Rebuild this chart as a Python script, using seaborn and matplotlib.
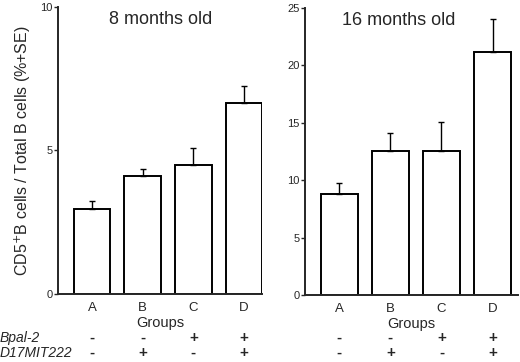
import numpy as np
import pandas as pd
import matplotlib.pyplot as plt
import matplotlib as mpl
import matplotlib.transforms as mtransforms
import seaborn as sns

# ------------------ style ------------------
sns.set_style("ticks")
mpl.rcParams['font.family'] = 'sans-serif'
mpl.rcParams['font.sans-serif'] = ['Liberation Sans', 'DejaVu Sans']

# ------------------ data ------------------
groups = ["A", "B", "C", "D"]
mean_8mo = [2.95, 4.1, 4.5, 6.65]
se_8mo = [0.3, 0.25, 0.58, 0.6]
mean_16mo = [8.8, 12.5, 12.5, 21.2]
se_16mo = [0.95, 1.6, 2.6, 2.8]
bpal2 = ["-", "-", "+", "+"]
d17mit222 = ["-", "+", "-", "+"]

df8 = pd.DataFrame({"group": groups, "value": mean_8mo, "se": se_8mo})
df16 = pd.DataFrame({"group": groups, "value": mean_16mo, "se": se_16mo})

# ------------------ plot ------------------
fig = plt.figure(figsize=(5.2, 3.62), dpi=100)
ax1 = fig.add_axes([0.1115, 0.188, 0.392, 0.793])
ax2 = fig.add_axes([0.5865, 0.185, 0.41, 0.793])

panels = [
    (ax1, df8, "8 months old", 1.35, 10, [0, 5, 10], (-0.67, 3.35)),
    (ax2, df16, "16 months old", 1.16, 25, [0, 5, 10, 15, 20, 25], (-0.67, 3.5)),
]

for ax, d, title, title_x, ymax, yticks, xlim in panels:
    sns.barplot(data=d, x="group", y="value", order=groups, ax=ax,
                color="white", edgecolor="black", linewidth=1.4,
                width=0.72, errorbar=None)
    ax.errorbar(range(len(groups)), d["value"],
                yerr=[np.zeros(len(groups)), d["se"]],
                fmt="none", ecolor="black", elinewidth=1.0,
                capsize=2.5, capthick=1.0)
    ax.set_ylim(0, ymax)
    ax.set_xlim(*xlim)
    ax.set_yticks(yticks)
    ax.tick_params(axis="y", labelsize=8, length=3, width=1, pad=1)
    ax.tick_params(axis="x", labelsize=9.5, length=0, pad=6)
    ax.set_xlabel("Groups", fontsize=10.5, labelpad=1)
    ax.set_ylabel("")
    ttrans = mtransforms.blended_transform_factory(ax.transData, ax.transAxes)
    ax.text(title_x, 0.985, title, transform=ttrans, ha="center", va="top",
            fontsize=13)
    for s in ["left", "bottom"]:
        ax.spines[s].set_linewidth(1.4)
    sns.despine(ax=ax)

    # genotype rows under each panel
    trans = mtransforms.blended_transform_factory(ax.transData, fig.transFigure)
    for i in range(len(groups)):
        ax.text(i, 1 - 338 / 362, bpal2[i], transform=trans, ha="center",
                va="center", fontsize=11, fontweight="bold")
        ax.text(i, 1 - 353 / 362, d17mit222[i], transform=trans, ha="center",
                va="center", fontsize=11, fontweight="bold")

ax1.set_ylabel("CD5$^{+}$B cells / Total B cells (%+SE)", fontsize=11.5,
               labelpad=5)

fig.text(0.0, 1 - 338 / 362, "Bpal-2", ha="left", va="center",
         fontsize=10, style="italic")
fig.text(0.0, 1 - 353 / 362, "D17MIT222", ha="left", va="center",
         fontsize=10, style="italic")

fig.savefig("out.png", dpi=100)
